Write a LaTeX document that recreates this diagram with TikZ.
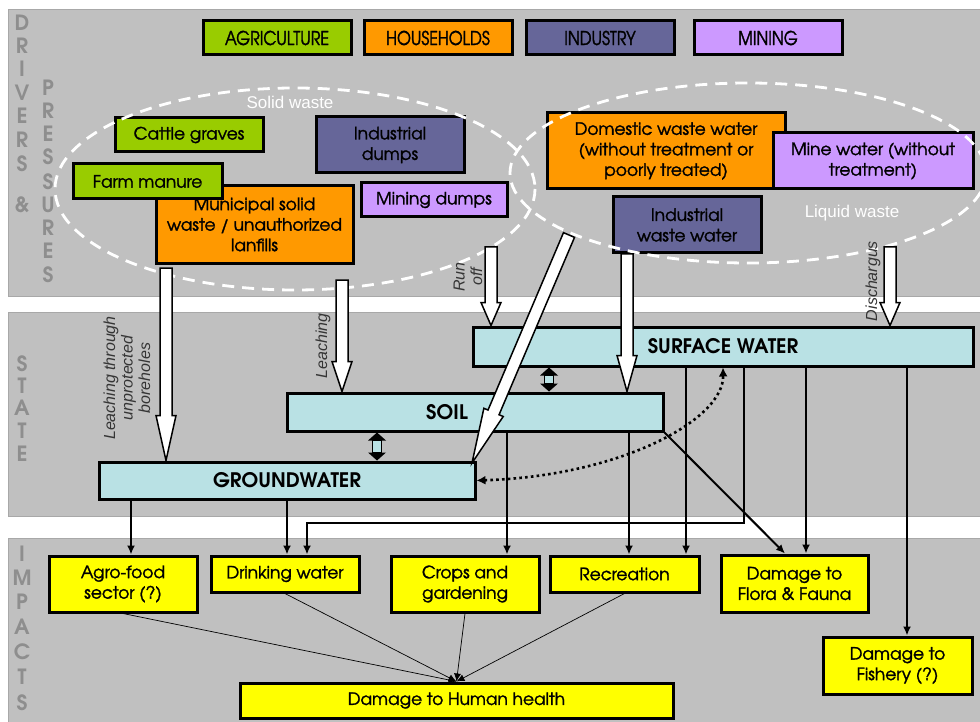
\documentclass[tikz,border=0pt]{standalone}
\usepackage{fontspec}
\setmainfont{Liberation Sans}
\newfontfamily\gothic[FakeBold=1.6]{TeX Gyre Adventor}
\newfontfamily\gothiccond[FakeStretch=0.84, FakeBold=1.6]{TeX Gyre Adventor}
\newfontfamily\gothicplain{TeX Gyre Adventor}
\newcommand{\gothicheavy}{\gothicplain\bfseries}
\usetikzlibrary{calc,arrows.meta}
\definecolor{bandgray}{HTML}{C0C0C0}
\definecolor{bandedge}{HTML}{A8A8A8}
\definecolor{agrigreen}{HTML}{99CC00}
\definecolor{houseorange}{HTML}{FF9900}
\definecolor{indblue}{HTML}{666699}
\definecolor{minelilac}{HTML}{CC99FF}
\definecolor{statecyan}{HTML}{B9E1E4}
\definecolor{impyellow}{HTML}{FFFF00}
\definecolor{sidegray}{HTML}{8E8E8E}
\definecolor{labelgray}{HTML}{353535}
\tikzset{
  box/.style={draw=black, line width=3pt, inner sep=0pt, align=center,
    font=\gothic\fontsize{17}{20.5}\selectfont, text=black},
  hdr/.style={box, font=\gothiccond\fontsize{19}{20}\selectfont},
  statebox/.style={box, fill=statecyan, font=\gothicheavy\fontsize{20}{22}\selectfont},
  impbox/.style={box, fill=impyellow},
  sideletter/.style={font=\gothicheavy\fontsize{21}{21}\selectfont, text=sidegray, inner sep=0pt},
  flowlabel/.style={font=\itshape\fontsize{16}{17.5}\selectfont, text=labelgray, rotate=90, align=center, inner sep=0pt},
  wastelabel/.style={font=\fontsize{17}{20}\selectfont, text=white, inner sep=0pt},
  wasteellipse/.style={draw=white, line width=2.8pt, dash pattern=on 12pt off 8pt},
  blockarrowstyle/.style={draw=black, fill=white, line width=1.5pt, line join=miter},
  conn/.style={draw=black, line width=2pt, -{Latex[length=9pt,width=8pt]}},
  thinconn/.style={draw=black, line width=0.7pt, -{Latex[length=8pt,width=7pt]}},
  dotconn/.style={draw=black, line width=2.6pt, dash pattern=on 2.6pt off 3.2pt,
    {Latex[length=9pt,width=9pt]}-{Latex[length=9pt,width=9pt]}}
}
% white block arrow: #1 start, #2 tip, #3 head length, #4 shaft half width, #5 head half width
\newcommand{\blockarrow}[5]{%
  \coordinate (bah) at ($(#2)!#3!(#1)$);
  \draw[blockarrowstyle] ($(#1)!#4!90:(#2)$) -- ($(bah)!#4!-90:(#1)$) -- ($(bah)!#5!-90:(#1)$)
    -- (#2) -- ($(bah)!#5!90:(#1)$) -- ($(bah)!#4!90:(#1)$) -- ($(#1)!#4!-90:(#2)$) -- cycle;
}
% double headed exchange arrow
\newcommand{\dblarrow}[2]{%
  \coordinate (dah1) at ($(#1)!8pt!(#2)$);
  \coordinate (dah2) at ($(#2)!8pt!(#1)$);
  \filldraw[fill=statecyan, draw=black, line width=1.4pt] ($(dah1)!4.5pt!90:(#2)$) -- ($(dah2)!4.5pt!-90:(#1)$)
    -- ($(dah2)!4.5pt!90:(#1)$) -- ($(dah1)!4.5pt!-90:(#2)$) -- cycle;
  \fill[black] (#1) -- ($(dah1)!9pt!90:(#2)$) -- ($(dah1)!9pt!-90:(#2)$) -- cycle;
  \fill[black] (#2) -- ($(dah2)!9pt!90:(#1)$) -- ($(dah2)!9pt!-90:(#1)$) -- cycle;
}
\begin{document}
\begin{tikzpicture}[x=1pt,y=-1pt]
\useasboundingbox (0,0) rectangle (980,722);
\fill[white] (0,0) rectangle (980,722);
% bands
\filldraw[fill=bandgray, draw=bandedge, line width=1pt] (8,10) rectangle (984,296);
\filldraw[fill=bandgray, draw=bandedge, line width=1pt] (8,312) rectangle (984,516);
\filldraw[fill=bandgray, draw=bandedge, line width=1pt] (8,538) rectangle (984,726);

% side letters
\foreach \l/\y [count=\i] in {D/23,R/46,I/69,V/93,E/116,R/140,S/164,\&/205}
  \node[sideletter] (drv\i) at (22,\y) {\l};
\foreach \l/\y [count=\i] in {P/88,R/111,E/134,S/157,S/182,U/205,R/228,E/251,S/275}
  \node[sideletter] (prs\i) at (48,\y) {\l};
\foreach \l/\y [count=\i] in {S/364,T/386,A/408,T/431,E/454}
  \node[sideletter] (sta\i) at (22,\y) {\l};
\foreach \l/\y [count=\i] in {I/554,M/578,P/602,A/627,C/652,T/677,S/703}
  \node[sideletter] (imp\i) at (22,\y) {\l};

% header boxes
\node[hdr, fill=agrigreen, minimum width=148pt, minimum height=34pt] (agri) at (277,38) {AGRICULTURE};
\node[hdr, fill=houseorange, minimum width=148pt, minimum height=34pt] (house) at (438,38) {HOUSEHOLDS};
\node[hdr, fill=indblue, minimum width=148pt, minimum height=34pt] (indus) at (600,38) {INDUSTRY};
\node[hdr, fill=minelilac, minimum width=148pt, minimum height=34pt] (mining) at (768,38) {MINING};

% solid waste sources
\node[box, fill=agrigreen, minimum width=148pt, minimum height=34pt] (cattle) at (189,135) {Cattle graves};
\node[box, fill=houseorange, minimum width=197pt, minimum height=77pt] (muni) at (254.5,224.5) {Municipal solid\\waste / unauthorized\\lanfills};
\node[box, fill=agrigreen, minimum width=149pt, minimum height=35pt] (farm) at (147.5,181.5) {Farm manure};
\node[box, fill=indblue, minimum width=148pt, minimum height=56pt] (inddump) at (390,145) {Industrial\\dumps};
\node[box, fill=minelilac, minimum width=146pt, minimum height=34pt] (minedump) at (434,200) {Mining dumps};

% liquid waste sources
\node[box, fill=houseorange, minimum width=238pt, minimum height=76pt] (domestic) at (666,151) {Domestic waste water\\(without treatment or\\poorly treated)};
\node[box, fill=minelilac, minimum width=200pt, minimum height=56pt] (minewater) at (873,161) {Mine water (without\\treatment)};
\node[box, fill=indblue, minimum width=148pt, minimum height=56pt] (indww) at (687,225) {Industrial\\waste water};

% ellipses
\draw[wasteellipse] (295,189) ellipse [x radius=240, y radius=101];
\draw[wasteellipse] (748,173) ellipse [x radius=238, y radius=90];
\node[wastelabel] (solidlbl) at (290,102) {Solid waste};
\node[wastelabel] (liquidlbl) at (852,213) {Liquid waste};

% state boxes
\node[statebox, minimum width=500pt, minimum height=39pt] (sw) at (723,346.5) {SURFACE WATER};
\node[statebox, minimum width=376pt, minimum height=38pt, label={[font=\gothicheavy\fontsize{20}{22}\selectfont, xshift=-28pt]center:SOIL}] (soil) at (475,412) {};
\node[statebox, minimum width=376pt, minimum height=37pt] (gw) at (287,480.5) {GROUNDWATER};

% impact boxes
\node[impbox, minimum width=148pt, minimum height=56pt] (agro) at (123,584) {Agro-food\\sector (?)};
\node[impbox, minimum width=148pt, minimum height=36pt] (drink) at (285,574) {Drinking water};
\node[impbox, minimum width=148pt, minimum height=56pt] (crops) at (465,584) {Crops and\\gardening};
\node[impbox, minimum width=149pt, minimum height=36pt] (recr) at (624.5,574) {Recreation};
\node[impbox, minimum width=147pt, minimum height=57pt] (flora) at (794.5,583.5) {Damage to\\Flora \& Fauna};
\node[impbox, minimum width=149pt, minimum height=57pt] (fish) at (897.5,665.5) {Damage to\\Fishery (?)};
\node[impbox, minimum width=433pt, minimum height=35pt] (human) at (456.5,700.5) {Damage to Human health};

% pressure arrows (white block arrows)
\coordinate (p1s) at (166,268);
\coordinate (p2s) at (342,280);
\coordinate (p3s) at (491,247);
\coordinate (p4s) at (569,235);
\coordinate (p5s) at (627,254);
\coordinate (p6s) at (890,247);
\coordinate (p4e) at (472,463);
\blockarrow{p1s}{gw.north -| p1s}{45pt}{6pt}{10pt}
\blockarrow{p2s}{soil.north -| p2s}{30pt}{6pt}{10pt}
\blockarrow{p3s}{sw.north -| p3s}{23pt}{6pt}{10pt}
\blockarrow{p4s}{p4e}{55pt}{6pt}{10.5pt}
\blockarrow{p5s}{soil.north -| p5s}{36pt}{6pt}{10pt}
\blockarrow{p6s}{sw.north -| p6s}{23pt}{6pt}{10pt}

% flow labels
\node[flowlabel] (lblbore) at (127,378) {Leaching through\\unprotected\\boreholes};
\node[flowlabel] (lblleach) at (323,346) {Leaching};
\node[flowlabel] (lblrun) at (468,277) {Run\\off};
\node[flowlabel] (lbldis) at (873,281) {Dischargus};

% exchanges between compartments
\coordinate (x1) at (377,0);
\coordinate (x2) at (549,0);
\dblarrow{soil.south -| x1}{gw.north -| x1}
\dblarrow{sw.south -| x2}{soil.north -| x2}
\draw[dotconn] (gw.east) .. controls (620,476) and (724,420) .. (sw.south);

% state -> impacts
\coordinate (xa) at (131,0);
\coordinate (xb) at (287,0);
\coordinate (xd) at (507,0);
\coordinate (xe) at (629,0);
\coordinate (xf) at (686,0);
\coordinate (xg) at (744,0);
\coordinate (xh) at (806,0);
\coordinate (xi) at (907,0);
\coordinate (tc) at (307,523);
\coordinate (xfl) at (785,0);
\draw[conn] (gw.south -| xa) -- (agro.north -| xa);
\draw[conn] (gw.south -| xb) -- (drink.north -| xb);
\draw[conn] (sw.south -| xg) |- (tc) -- (drink.north -| tc);
\draw[conn] (soil.south -| xd) -- (crops.north -| xd);
\draw[conn] (soil.south -| xe) -- (recr.north -| xe);
\draw[conn] (sw.south -| xf) -- (recr.north -| xf);
\draw[conn] (soil.south east) -- (flora.north -| xfl);
\draw[conn] (sw.south -| xh) -- (flora.north -| xh);
\draw[conn] (sw.south -| xi) -- (fish.north -| xi);

% impacts -> human health
\draw[thinconn] (agro.south) -- (human.north);
\draw[thinconn] (drink.south) -- (human.north);
\draw[thinconn] (crops.south) -- (human.north);
\draw[thinconn] (recr.south) -- (human.north);
\end{tikzpicture}
\end{document}
